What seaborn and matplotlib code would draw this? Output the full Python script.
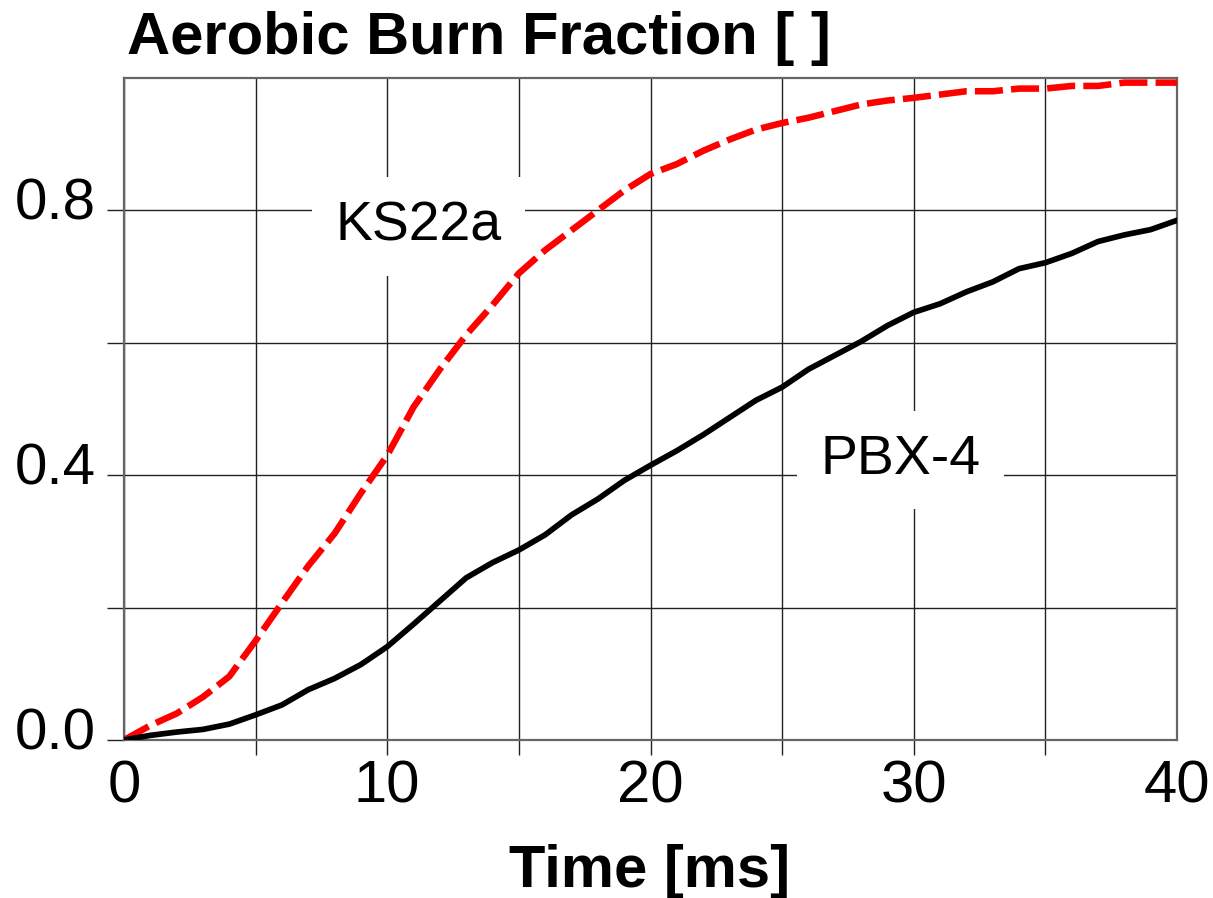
import matplotlib
matplotlib.use("Agg")
import matplotlib.pyplot as plt
import matplotlib.transforms as mtransforms
import seaborn as sns
import pandas as pd

time_ms = list(range(0, 41))
ks22a = [0.0, 0.022, 0.040, 0.065, 0.096, 0.150, 0.207, 0.263, 0.312, 0.373,
         0.430, 0.503, 0.560, 0.612, 0.657, 0.705, 0.740, 0.770, 0.800, 0.830,
         0.855, 0.870, 0.890, 0.907, 0.922, 0.932, 0.940, 0.950, 0.960, 0.966,
         0.970, 0.975, 0.980, 0.980, 0.984, 0.984, 0.988, 0.988, 0.993, 0.993,
         0.993]
pbx4 = [0.0, 0.007, 0.012, 0.016, 0.024, 0.038, 0.053, 0.076, 0.093, 0.114,
        0.141, 0.175, 0.210, 0.245, 0.268, 0.287, 0.310, 0.340, 0.364, 0.392,
        0.415, 0.437, 0.461, 0.487, 0.513, 0.533, 0.560, 0.581, 0.602, 0.626,
        0.646, 0.659, 0.677, 0.692, 0.712, 0.721, 0.735, 0.753, 0.763, 0.771,
        0.785]
series_names = ["KS22a", "PBX-4"]
x_ticks = [0, 10, 20, 30, 40]
x_ticklabels = ["0", "10", "20", "30", "40"]
x_minor_ticks = [5, 15, 25, 35]
y_ticks = [0.0, 0.2, 0.4, 0.6, 0.8]
y_ticklabels = ["0.0", "", "0.4", "", "0.8"]

sns.set_theme(style="white")
plt.rcParams['font.family'] = ['Liberation Sans', 'DejaVu Sans']
plt.rcParams['text.color'] = 'black'
plt.rcParams['axes.labelcolor'] = 'black'
plt.rcParams['xtick.color'] = 'black'
plt.rcParams['ytick.color'] = 'black'

W, H = 1213, 898
fig = plt.figure(figsize=(W / 100, H / 100), dpi=100)
ax = fig.add_axes([124 / W, 1 - 740 / H, (1177 - 124) / W, (740 - 78) / H])

df_ks = pd.DataFrame({"t": time_ms, "f": ks22a})
df_pb = pd.DataFrame({"t": time_ms, "f": pbx4})

sns.lineplot(data=df_ks, x="t", y="f", ax=ax, color="#ff0000", linewidth=4.7,
             zorder=4)
ax.lines[-1].set_linestyle((0, (4.3, 1.25)))
ax.lines[-1].set_dash_capstyle("butt")
sns.lineplot(data=df_pb, x="t", y="f", ax=ax, color="black", linewidth=4.1,
             zorder=4)

ax.set_xlim(0, 40)
ax.set_ylim(0, 1.0)
ax.set_xticks(x_ticks)
ax.set_xticklabels(x_ticklabels)
ax.set_xticks(x_minor_ticks, minor=True)
ax.set_yticks(y_ticks)
ax.set_yticklabels(y_ticklabels)
ax.grid(True, which="both", axis="x", color="#222222", linewidth=1.0)
ax.grid(True, which="major", axis="y", color="#222222", linewidth=1.0)
ax.set_axisbelow(True)
for s in ax.spines.values():
    s.set_color("#666666")
    s.set_linewidth(1.6)
ax.tick_params(axis="x", which="both", direction="out", length=10.8,
               width=1.0, color="#222222", labelsize=43, pad=3.5, bottom=True)
ax.tick_params(axis="y", which="major", direction="out", length=12.2,
               width=1.0, color="#222222", labelsize=42, pad=8, left=True)

# no tick marks at the two ends of the x axis in the reference
xt = ax.xaxis.get_major_ticks()
xt[0].tick1line.set_visible(False)
xt[-1].tick1line.set_visible(False)

# y tick labels sit slightly above their ticks in the reference
offset = mtransforms.ScaledTranslation(0, 12 / 100, fig.dpi_scale_trans)
for lab in ax.get_yticklabels():
    lab.set_transform(lab.get_transform() + offset)

ax.set_xlabel("Time [ms]", fontsize=43, fontweight="bold")
ax.xaxis.label.set_va("baseline")
ax.xaxis.set_label_coords(526 / 1053, (740 - 887) / 662)
ax.set_ylabel("")

bbox = dict(facecolor="white", edgecolor="none", pad=17)
ax.text(11.2, 0.776, series_names[0], fontsize=40, ha="center", va="center",
        bbox=bbox, zorder=3)
ax.text(29.5, 0.423, series_names[1], fontsize=40, ha="center", va="center",
        bbox=bbox, zorder=3)

fig.text(127 / W, 1 - 54 / H, "Aerobic Burn Fraction [ ]", fontsize=43,
         fontweight="bold", ha="left", va="baseline")

fig.savefig("out.png", dpi=100)
